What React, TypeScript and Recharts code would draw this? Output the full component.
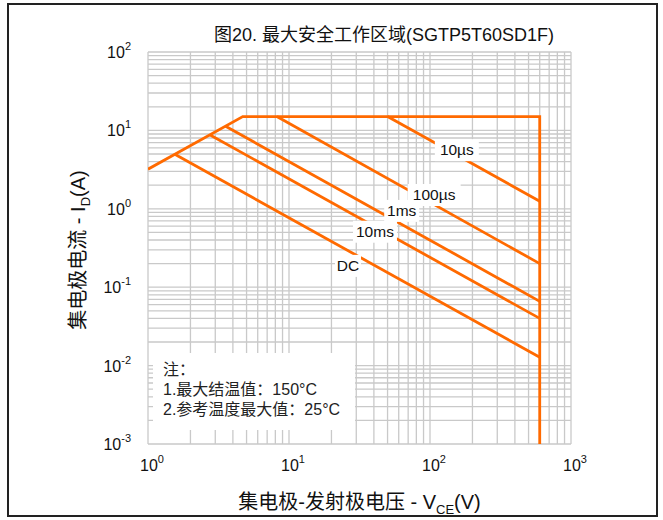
import React from "react";
import { LineChart, Line, XAxis, YAxis, CartesianGrid } from "recharts";

// grid / tick values on the log axes
const xTicks = [1, 2, 3, 4, 5, 6, 7, 8, 9, 10, 20, 30, 40, 50, 60, 70, 80, 90, 100, 200, 300, 400, 500, 600, 700, 800, 900, 1000];
const yTicks = [
  0.001, 0.002, 0.003, 0.004, 0.005, 0.006, 0.007, 0.008, 0.009,
  0.01, 0.02, 0.03, 0.04, 0.05, 0.06, 0.07, 0.08, 0.09,
  0.1, 0.2, 0.3, 0.4, 0.5, 0.6, 0.7, 0.8, 0.9,
  1, 2, 3, 4, 5, 6, 7, 8, 9,
  10, 20, 30, 40, 50, 60, 70, 80, 90, 100,
];
const xDecades = [1, 10, 100, 1000];
const yDecades = [0.001, 0.01, 0.1, 1, 10, 100];

// SOA boundaries (V_CE, I_D)
const boundary = [
  { v: 1, i: 3.2 },
  { v: 4.7, i: 15 },
  { v: 600, i: 15 },
  { v: 600, i: 0.001 },
];
const pulse10us = [
  { v: 50, i: 15 },
  { v: 600, i: 1.25 },
];
const pulse100us = [
  { v: 8.2, i: 15 },
  { v: 600, i: 0.2 },
];
const pulse1ms = [
  { v: 3.55, i: 11.3 },
  { v: 600, i: 0.066 },
];
const pulse10ms = [
  { v: 2.74, i: 8.8 },
  { v: 600, i: 0.04 },
];
const dcLine = [
  { v: 1.55, i: 4.95 },
  { v: 600, i: 0.0128 },
];

const curveLabels = [
  { v: 155, i: 5.6, text: "10µs" },
  { v: 107, i: 1.5, text: "100µs" },
  { v: 63, i: 0.94, text: "1ms" },
  { v: 40.7, i: 0.51, text: "10ms" },
  { v: 26.2, i: 0.187, text: "DC" },
];

const ORANGE = "#FF6A00";
const FONT = "'Liberation Sans', Arial, 'Noto Sans CJK SC', sans-serif";

const exponent = (val: number) => Math.round(Math.log10(val));
const isDecade = (list: number[], val: number) => list.some((d) => Math.abs(d - val) < d * 1e-6);

const XTick = (props: any) => {
  const { x, y, payload } = props;
  if (!isDecade(xDecades, payload.value)) return <g />;
  return (
    <text x={x + 4} y={y + 27} textAnchor="middle" fontSize={16} fill="#111" fontFamily={FONT}>
      10
      <tspan dy={-8} fontSize={11}>{exponent(payload.value)}</tspan>
    </text>
  );
};

const YTick = (props: any) => {
  const { x, y, payload } = props;
  if (!isDecade(yDecades, payload.value)) return <g />;
  return (
    <text x={x - 17} y={y + 6} textAnchor="end" fontSize={16} fill="#111" fontFamily={FONT}>
      10
      <tspan dy={-8} fontSize={11}>{exponent(payload.value)}</tspan>
    </text>
  );
};

// white patch behind each curve label (drawn under the curves)
const LabelPatch = (props: any) => {
  const { cx, cy, payload } = props;
  if (cx == null || cy == null) return <g />;
  const w = payload.text.length * 9 + 8;
  return <rect x={cx - w / 2} y={cy - 11} width={w} height={22} fill="#fff" />;
};

const LabelText = (props: any) => {
  const { cx, cy, payload } = props;
  if (cx == null || cy == null) return <g />;
  return (
    <text x={cx} y={cy + 5} textAnchor="middle" fontSize={15.5} fill="#111" fontFamily={FONT}>
      {payload.text}
    </text>
  );
};

export default function App() {
  return (
    <div
      style={{
        position: "absolute",
        left: 0,
        top: 0,
        width: 663,
        height: 520,
        background: "#fff",
        fontFamily: FONT,
      }}
    >
      <div
        style={{
          position: "absolute",
          left: 7,
          top: 3,
          width: 651,
          height: 514,
          border: "2px solid #222",
          boxSizing: "border-box",
        }}
      />
      <div
        style={{
          position: "absolute",
          left: 0,
          width: 663,
          top: 20,
          paddingLeft: 105,
          boxSizing: "border-box",
          textAlign: "center",
          fontSize: 18,
          color: "#111",
          whiteSpace: "nowrap",
        }}
      >
        图20. 最大安全工作区域(SGTP5T60SD1F)
      </div>
      <LineChart
        width={663}
        height={520}
        margin={{ top: 52, right: 92, bottom: 0, left: 0 }}
        style={{ position: "absolute", left: 0, top: 0 }}
      >
        <CartesianGrid stroke="#c9c9c9" strokeWidth={1.3} />
        <XAxis
          dataKey="v"
          type="number"
          scale="log"
          domain={[1, 1000]}
          ticks={xTicks}
          interval={0}
          allowDataOverflow
          axisLine={false}
          tickLine={false}
          tickSize={0}
          tickMargin={0}
          tick={<XTick />}
          height={76}
        />
        <YAxis
          dataKey="i"
          type="number"
          scale="log"
          domain={[0.001, 100]}
          ticks={yTicks}
          interval={0}
          allowDataOverflow
          axisLine={false}
          tickLine={false}
          tickSize={0}
          tickMargin={0}
          tick={<YTick />}
          width={148}
        />
        <Line
          data={curveLabels}
          dataKey="i"
          stroke="none"
          dot={<LabelPatch />}
          zIndex={-50}
          isAnimationActive={false}
        />
        <Line data={boundary} dataKey="i" stroke={ORANGE} strokeWidth={2.8} dot={false} strokeLinejoin="miter" isAnimationActive={false} />
        <Line data={pulse10us} dataKey="i" stroke={ORANGE} strokeWidth={2.8} dot={false} isAnimationActive={false} />
        <Line data={pulse100us} dataKey="i" stroke={ORANGE} strokeWidth={2.8} dot={false} isAnimationActive={false} />
        <Line data={pulse1ms} dataKey="i" stroke={ORANGE} strokeWidth={2.8} dot={false} isAnimationActive={false} />
        <Line data={pulse10ms} dataKey="i" stroke={ORANGE} strokeWidth={2.8} dot={false} isAnimationActive={false} />
        <Line data={dcLine} dataKey="i" stroke={ORANGE} strokeWidth={2.8} dot={false} isAnimationActive={false} />
        <Line
          data={curveLabels}
          dataKey="i"
          stroke="none"
          dot={<LabelText />}
          zIndex={2000}
          isAnimationActive={false}
        />
      </LineChart>

      {/* note box */}
      <div
        style={{
          position: "absolute",
          left: 153,
          top: 353,
          width: 202,
          height: 77,
          background: "#fff",
          paddingLeft: 10,
          paddingTop: 7,
          boxSizing: "border-box",
          fontSize: 16,
          lineHeight: "20px",
          color: "#222",
          whiteSpace: "nowrap",
        }}
      >
        <div>注：</div>
        <div>1.最大结温值：150°C</div>
        <div>2.参考温度最大值：25°C</div>
      </div>

      {/* x axis title */}
      <div
        style={{
          position: "absolute",
          left: 148,
          width: 423,
          top: 486,
          textAlign: "center",
          fontSize: 20,
          color: "#111",
          whiteSpace: "nowrap",
        }}
      >
        集电极-发射极电压 - V<sub style={{ fontSize: 13 }}>CE</sub>(V)
      </div>

      {/* y axis title */}
      <div
        style={{
          position: "absolute",
          left: 77,
          top: 250,
          transform: "translate(-50%, -50%) rotate(-90deg)",
          fontSize: 20,
          color: "#111",
          whiteSpace: "nowrap",
        }}
      >
        集电极电流 - I<sub style={{ fontSize: 13 }}>D</sub>(A)
      </div>
    </div>
  );
}
